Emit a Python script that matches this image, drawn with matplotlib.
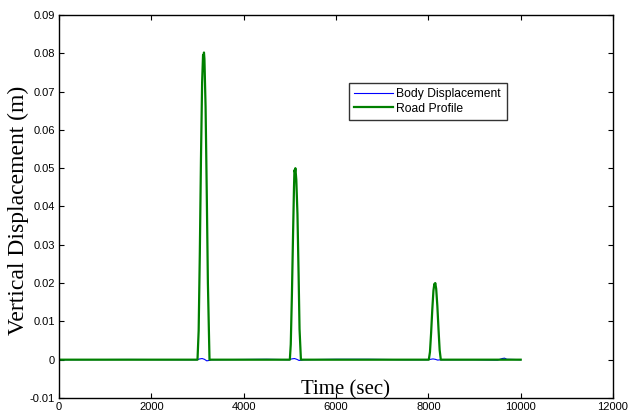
import matplotlib
matplotlib.use("Agg")
import matplotlib.pyplot as plt

# road profile: flat road with three bumps
road_t = [0, 3000, 3025, 3050, 3075, 3100, 3120, 3130, 3140, 3150, 3175, 3200, 3225, 3260,
          5000, 5020, 5045, 5070, 5090, 5100, 5110, 5120, 5140, 5165, 5190, 5210, 5240,
          8010, 8035, 8060, 8085, 8110, 8130, 8140, 8150, 8170, 8195, 8220, 8245, 8270,
          10000]
road_y = [0, 0, 0.0076, 0.0276, 0.0524, 0.0724, 0.0795, 0.0790, 0.0802, 0.0785, 0.0660, 0.0440, 0.0200, 0,
          0, 0.0040, 0.0170, 0.0330, 0.0450, 0.0495, 0.0490, 0.0500, 0.0470, 0.0380, 0.0220, 0.0080, 0,
          0, 0.0020, 0.0070, 0.0130, 0.0180, 0.0198, 0.0195, 0.0200, 0.0185, 0.0140, 0.0080, 0.0025, 0,
          0]

# body displacement stays almost at zero, small wiggles after each bump
body_t = [0, 1500, 2990, 3050, 3100, 3150, 3200, 3250, 3300, 4000, 4500, 4990, 5040, 5100,
          5150, 5200, 5300, 6000, 6700, 7500, 7990, 8050, 8100, 8150, 8200, 8300, 9000,
          9500, 9600, 9650, 9700, 10000]
body_y = [0, 0.00005, 0, 0.0002, 0.0003, 0.0001, -0.0003, -0.0002, 0, 0.00005, 0.0001, 0, 0.0002,
          0.0003, 0.0001, -0.0002, 0, 0.0001, 0.0001, 0, 0, 0.0001, 0.0002, 0.0001, -0.0001, 0, 0,
          -0.0001, 0.0003, 0.0004, 0.0001, 0]

xticks = [0, 2000, 4000, 6000, 8000, 10000, 12000]
yticks = [-0.01, 0, 0.01, 0.02, 0.03, 0.04, 0.05, 0.06, 0.07, 0.08, 0.09]
ylabels = ["-0.01", "0", "0.01", "0.02", "0.03", "0.04", "0.05", "0.06", "0.07", "0.08", "0.09"]

fig = plt.figure(figsize=(6.31, 4.16), dpi=100)
ax = fig.add_axes([0.0935, 0.0433, 0.878, 0.9207])

ax.plot(body_t, body_y, color="#0000ff", lw=0.8, label="Body Displacement")
ax.plot(road_t, road_y, color="#008000", lw=1.6, label="Road Profile")

ax.set_xlim(0, 12000)
ax.set_ylim(-0.01, 0.09)
ax.set_xticks(xticks)
ax.set_yticks(yticks)
ax.set_xticklabels([str(v) for v in xticks])
ax.set_yticklabels(ylabels)
ax.tick_params(direction="in", top=True, right=True, length=3.6, width=0.8,
               labelsize=8, pad=3)
for lab in ax.get_xticklabels() + ax.get_yticklabels():
    lab.set_family("Liberation Sans")
for sp in ax.spines.values():
    sp.set_linewidth(1.0)

ax.text(0.517, 0.008, "Time (sec)", transform=ax.transAxes, ha="center", va="baseline",
        family="Liberation Serif", fontsize=15)
ax.text(-0.073, 0.491, "Vertical Displacement (m)", transform=ax.transAxes, ha="center",
        va="center", rotation=90, family="Liberation Serif", fontsize=17)

leg = ax.legend(loc="upper left", bbox_to_anchor=(0.5235, 0.823),
                prop={"family": "Liberation Sans", "size": 8.75},
                frameon=True, fancybox=False, edgecolor="black", borderpad=0.45,
                handlelength=3.2, labelspacing=0.2, handletextpad=0.25, borderaxespad=0)
leg.get_frame().set_linewidth(1.0)

fig.savefig("out.png", dpi=100)
